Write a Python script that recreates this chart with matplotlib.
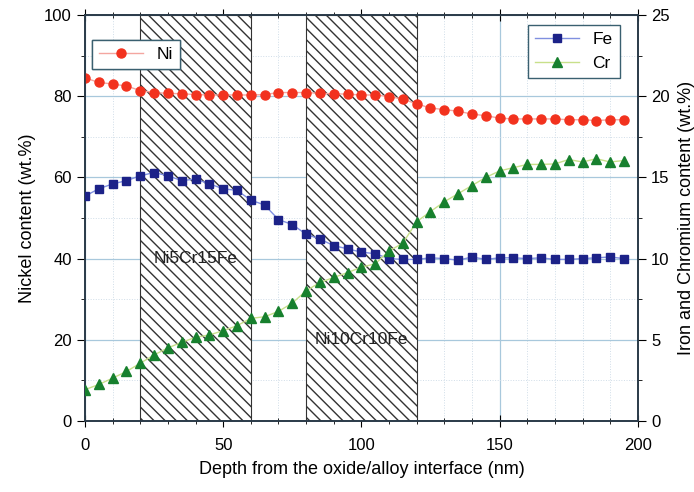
import matplotlib.pyplot as plt
from matplotlib.patches import Rectangle
from matplotlib.ticker import MultipleLocator

plt.rcParams['font.family'] = ['Liberation Sans', 'DejaVu Sans']

# depth (nm), one sample every 5 nm
depth = [0, 5, 10, 15, 20, 25, 30, 35, 40, 45, 50, 55, 60, 65, 70, 75, 80, 85, 90, 95,
         100, 105, 110, 115, 120, 125, 130, 135, 140, 145, 150, 155, 160, 165, 170, 175,
         180, 185, 190, 195]

ni = [84.5, 83.4, 83.0, 82.5, 81.4, 80.9, 80.7, 80.6, 80.4, 80.3, 80.3, 80.3, 80.3, 80.4,
      80.9, 80.9, 80.9, 80.7, 80.6, 80.5, 80.3, 80.3, 79.9, 79.3, 78.1, 77.1, 76.7, 76.3,
      75.6, 75.2, 74.6, 74.4, 74.4, 74.4, 74.4, 74.2, 74.2, 74.0, 74.2, 74.2]

fe = [13.85, 14.3, 14.6, 14.8, 15.1, 15.3, 15.1, 14.8, 14.9, 14.6, 14.3, 14.2, 13.6, 13.3,
      12.4, 12.1, 11.5, 11.2, 10.8, 10.6, 10.4, 10.3, 10.0, 9.95, 9.95, 10.05, 10.0, 9.9,
      10.1, 9.95, 10.05, 10.05, 10.0, 10.05, 9.95, 9.95, 10.0, 10.05, 10.1, 10.0]

cr = [1.93, 2.25, 2.64, 3.05, 3.56, 4.07, 4.5, 4.85, 5.15, 5.3, 5.56, 5.87, 6.32, 6.42,
      6.75, 7.26, 8.02, 8.53, 8.84, 9.14, 9.47, 9.68, 10.47, 10.95, 12.27, 12.9, 13.5, 14.0,
      14.5, 15.0, 15.4, 15.6, 15.8, 15.8, 15.83, 16.1, 15.95, 16.15, 15.95, 16.04]

# alloy reference bands
bands = [(20, 60), (80, 120)]
band_labels = ['Ni5Cr15Fe', 'Ni10Cr10Fe']
label_pos = [(40, 40), (100, 20)]

fig = plt.figure(figsize=(6.94, 4.92), dpi=100)
ax = fig.add_axes([0.1225, 0.1443, 0.7965, 0.8252])
ax2 = ax.twinx()

for (x0, x1) in bands:
    ax.add_patch(Rectangle((x0, 0), x1 - x0, 100, facecolor='white', edgecolor='#333333',
                           hatch='\\\\\\', linewidth=0.8, zorder=1))
for txt, (tx, ty) in zip(band_labels, label_pos):
    ax.text(tx, ty, txt, ha='center', va='center', fontsize=12.5, color='#222222', zorder=3)

ax.plot(depth, ni, color='#f4a6a0', lw=1.0, marker='o', ms=6.5, mfc='#f2321e',
        mec='#f2321e', label='Ni', zorder=4)
ax2.plot(depth, fe, color='#8090e0', lw=1.0, marker='s', ms=5.5, mfc='#1c2288',
         mec='#1c2288', label='Fe', zorder=4)
ax2.plot(depth, cr, color='#c8e08a', lw=1.0, marker='^', ms=6.5, mfc='#17802e',
         mec='#17802e', label='Cr', zorder=4)

ax.set_xlim(0, 200)
ax.set_ylim(0, 100)
ax2.set_ylim(0, 25)
ax.xaxis.set_major_locator(MultipleLocator(50))
ax.xaxis.set_minor_locator(MultipleLocator(10))
ax.yaxis.set_major_locator(MultipleLocator(20))
ax.yaxis.set_minor_locator(MultipleLocator(10))
ax2.yaxis.set_major_locator(MultipleLocator(5))
ax2.yaxis.set_minor_locator(MultipleLocator(2.5))

ax.grid(True, which='major', color='#a8c8dc', lw=0.9)
ax.grid(True, which='minor', color='#d0dde8', lw=0.7, ls=':')
ax.set_axisbelow(True)

ax.tick_params(axis='x', which='both', direction='inout', top=True, labelsize=12, pad=8)
ax.tick_params(axis='x', which='major', length=8)
ax.tick_params(axis='x', which='minor', length=5)
ax.tick_params(axis='y', which='major', direction='out', length=6, labelsize=12)
ax.tick_params(axis='y', which='minor', direction='out', length=3)
ax2.tick_params(axis='y', which='major', direction='out', length=6, labelsize=12)
ax2.tick_params(axis='y', which='minor', direction='out', length=3)

for a in (ax, ax2):
    for s in a.spines.values():
        s.set_color('#2a3a48')
        s.set_linewidth(1.2)

ax.set_xlabel('Depth from the oxide/alloy interface (nm)', fontsize=13, labelpad=6)
ax.set_ylabel('Nickel content (wt.%)', fontsize=13, labelpad=6)
ax2.set_ylabel('Iron and Chromium content (wt.%)', fontsize=13, labelpad=6)

leg1 = ax.legend(loc='upper left', bbox_to_anchor=(0.013, 0.938), borderaxespad=0,
                 fontsize=12.5, fancybox=False, edgecolor='#3a6070', framealpha=1,
                 handlelength=2.5)
leg1.get_frame().set_linewidth(1.0)
ax.add_artist(leg1)
leg2 = ax2.legend(loc='upper right', bbox_to_anchor=(0.967, 0.975), borderaxespad=0,
                  fontsize=12.5, fancybox=False, edgecolor='#3a6070', framealpha=1,
                  handlelength=2.5)
leg2.get_frame().set_linewidth(1.0)

fig.savefig('out.png', dpi=100)
